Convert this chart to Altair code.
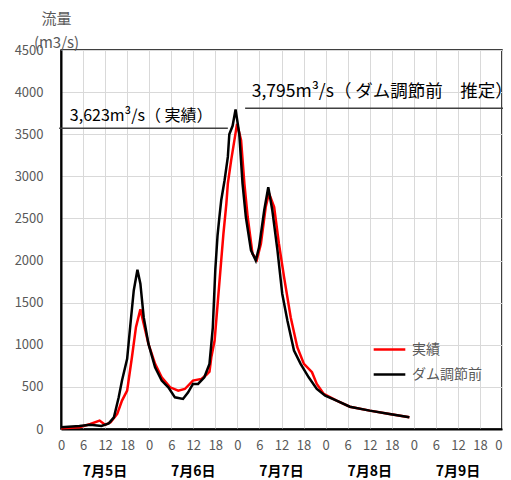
import altair as alt
import pandas as pd

# --- data ---
hours_actual = [0, 5, 8, 10.5, 12, 13.5, 15.3, 16.6, 18, 19.3, 20.4, 21.6, 22.5, 23.8, 25.6,
                27.4, 29.7, 31.9, 33.7, 35.9, 38.2, 39.5, 40.4, 40.9, 41.8, 42.7, 43.6, 44.2,
                45, 45.4, 46.3, 47.9, 49, 49.9, 50.8, 52.1, 53.3, 54.4, 55.7, 56.6, 58, 59.3,
                60.7, 62.5, 64.3, 66.1, 68.3, 69.6, 71.5, 75, 78.6, 84, 89.4, 94.8]
flow_actual = [10, 20, 60, 100, 50, 79, 178, 337, 456, 852, 1209, 1420, 1249, 1011, 773,
               614, 495, 456, 475, 575, 595, 640, 680, 852, 1050, 1526, 2002, 2319,
               2676, 2914, 3190, 3623, 3430, 2914, 2517, 2081, 2010, 2200, 2636, 2800, 2636, 2200,
               1803, 1328, 971, 773, 674, 535, 416, 337, 265, 218, 178, 140]

hours_before = [0, 5, 8, 11, 13, 14.4, 15.7, 16.6, 18, 18.9, 19.8, 20.8, 21.6, 22.5, 23.8,
                25.6, 27.4, 29.2, 31, 33.2, 34.6, 35.9, 37.3, 39, 40.4, 41.3, 42, 42.6, 43.1,
                43.6, 44.5, 45.4, 45.8, 46.7, 47.5, 48.5, 49.4, 50.3, 51.7, 53, 53.9, 55.3,
                56.4, 57.5, 58.9, 60.2, 61.6, 63.4, 65.2, 67.4, 69.6, 71.9, 75, 78.6, 84,
                89.4, 94.8]
flow_before = [20, 36, 50, 36, 67, 138, 376, 575, 833, 1249, 1645, 1891, 1725, 1328, 1011,
               733, 575, 495, 376, 357, 435, 535, 535, 614, 773, 1200, 1900, 2300, 2517,
               2716, 2950, 3231, 3500, 3600, 3795, 3509, 2914, 2517, 2121, 2000, 2160, 2597,
               2870, 2597, 2121, 1606, 1288, 931, 773, 614, 476, 396, 337, 265, 218,
               178, 140]

series_names = ["実績", "ダム調節前"]
series_colors = ["#FF0000", "#000000"]

x_ticks = [0, 6, 12, 18, 24, 30, 36, 42, 48, 54, 60, 66, 72, 78, 84, 90, 96, 102, 108, 114, 120]
y_ticks = [0, 500, 1000, 1500, 2000, 2500, 3000, 3500, 4000, 4500]

day_centers = [12, 36, 60, 84, 108]
day_labels = ["7月5日", "7月6日", "7月7日", "7月8日", "7月9日"]

# annotation lines (peak markers) and their labels
ann_x0 = [-0.5, 50.1]
ann_x1 = [45.4, 125]
ann_y = [3570, 3808]
ann1_x, ann1_y, ann1_text = [2.4], [3722], ["3,623m³/s（ 実績）"]
ann2_x, ann2_y, ann2_text = [51.9], [4001], ["3,795m³/s（ ダム調節前　推定）"]

FONT = "Noto Sans CJK JP"
GRAY = "#595959"
W, H = 441, 379

df = pd.concat([
    pd.DataFrame({"h": hours_actual, "q": flow_actual, "s": series_names[0]}),
    pd.DataFrame({"h": hours_before, "q": flow_before, "s": series_names[1]}),
], ignore_index=True)

xscale = alt.Scale(domain=[0, 120], nice=False, zero=False)
yscale = alt.Scale(domain=[0, 4500], nice=False)

xaxis = alt.Axis(
    values=x_ticks, labelExpr="datum.value % 24", title=None,
    ticks=False, labelPadding=10, labelFontSize=13, labelColor=GRAY,
    labelAlign=alt.expr("datum.value >= 120 ? 'right' : 'center'"),
    labelFont=FONT, labelFlush=False, labelOverlap=False, labelBound=False, grid=True,
    gridColor="#D9D9D9", domainColor="#000000", domainWidth=2)
yaxis = alt.Axis(
    values=y_ticks, format="d", ticks=False, labelPadding=18,
    labelFontSize=13, labelColor=GRAY, labelFont=FONT, labelOverlap=False, grid=True,
    gridColor="#D9D9D9", domainColor="#000000", domainWidth=2,
    title=["流量", "(m3/s)"], titleAngle=0, titleAlign="center",
    titleBaseline="alphabetic", titleX=-5, titleY=-27, titleLineHeight=24,
    titleFontSize=15, titleFontWeight="normal", titleColor=GRAY, titleFont=FONT)

lines = alt.Chart(df).mark_line(strokeWidth=2.5).encode(
    x=alt.X("h:Q", scale=xscale, axis=xaxis),
    y=alt.Y("q:Q", scale=yscale, axis=yaxis),
    color=alt.Color("s:N", sort=series_names,
                    scale=alt.Scale(domain=series_names, range=series_colors),
                    legend=alt.Legend(title=None, orient="none", legendX=311, legendY=282,
                                      symbolType="stroke", symbolSize=1000,
                                      symbolStrokeWidth=2.5, labelFontSize=14,
                                      labelColor=GRAY, labelFont=FONT, rowPadding=-4,
                                      labelOffset=5, padding=0)),
    order=alt.Order("s:N", sort="descending"),
)

ann_df = pd.DataFrame({"x0": ann_x0, "x1": ann_x1, "y": ann_y})
rules = alt.Chart(ann_df).mark_rule(color="#404040", strokeWidth=1.5, clip=False).encode(
    x=alt.X("x0:Q", scale=xscale, axis=xaxis), x2="x1:Q",
    y=alt.Y("y:Q", scale=yscale, axis=yaxis))


def ann_layer(xs, ys, ts, size):
    d = pd.DataFrame({"x": xs, "y": ys, "t": ts})
    return alt.Chart(d).mark_text(align="left", baseline="middle", fontSize=size,
                                  font=FONT, color="#000000", clip=False).encode(
        x=alt.X("x:Q", scale=xscale, axis=xaxis), y=alt.Y("y:Q", scale=yscale, axis=yaxis),
        text="t:N")


text1 = ann_layer(ann1_x, ann1_y, ann1_text, 16)
text2 = ann_layer(ann2_x, ann2_y, ann2_text, 17.5)

day_df = pd.DataFrame({"x": day_centers, "t": day_labels})
days = alt.Chart(day_df).mark_text(align="center", baseline="middle", fontSize=14,
                                   fontWeight="bold", font=FONT, color="#000000",
                                   clip=False).encode(
    x=alt.X("x:Q", scale=xscale, axis=xaxis), y=alt.value(H + 43), text="t:N")

chart = alt.layer(lines, rules, text1, text2, days).properties(
    width=W, height=H,
    autosize=alt.AutoSizeParams(type="none"),
    padding={"left": 53, "top": 42, "right": 1, "bottom": 51},
).configure_view(stroke="#000000", strokeWidth=1.5)

chart.save("out.html", embed_options={"renderer": "svg", "actions": False})
